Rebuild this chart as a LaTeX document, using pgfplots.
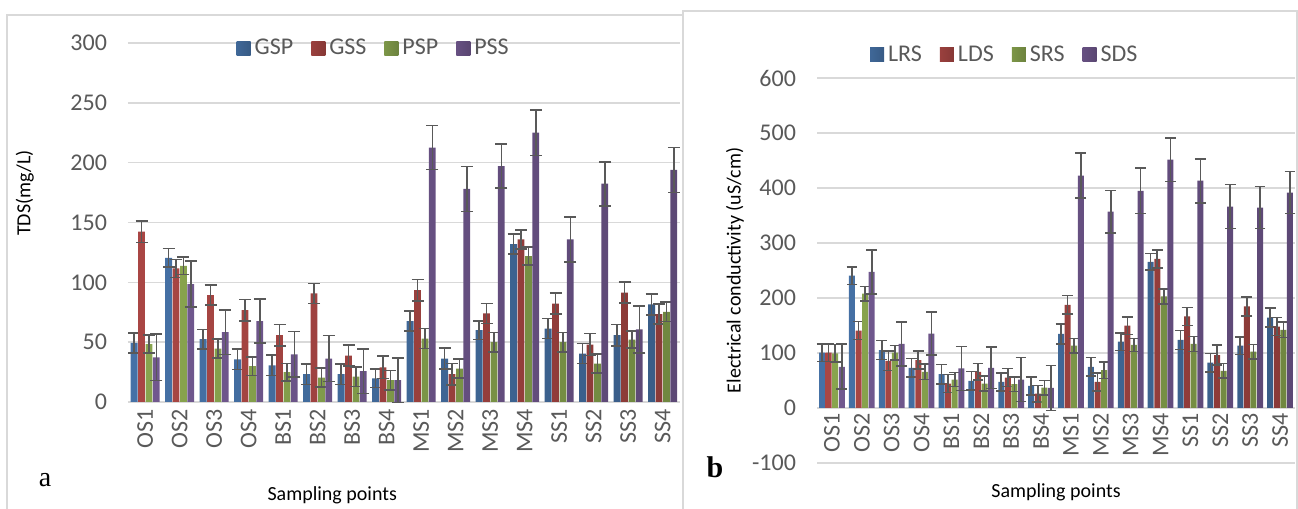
\documentclass[border=0pt]{standalone}
\usepackage{fontspec}
\setmainfont{Carlito}
\newfontfamily\serifx{Liberation Serif}
\usepackage{pgfplots}
\usepackage{pgfplotstable}
\pgfplotsset{compat=1.18}

\definecolor{cblue}{HTML}{4F81BD}
\definecolor{cred}{HTML}{C0504D}
\definecolor{cgreen}{HTML}{9BBB59}
\definecolor{cpurple}{HTML}{8064A2}
\definecolor{txt}{HTML}{595959}
\definecolor{gridc}{HTML}{D9D9D9}
\definecolor{errc}{HTML}{595959}

\newcommand{\tf}{\fontsize{12pt}{14pt}\selectfont}

\pgfplotstableread{
x GSP eGSP GSS eGSS PSP ePSP PSS ePSS
0 49.4 8.3 142.3 8.9 48.3 7.5 37.2 19.4
1 120.5 7.9 111.6 7.6 113.8 7.3 98.5 19.2
2 52.5 8.1 89.3 8.4 44.7 7.8 58.3 18.7
3 35.7 8.4 76.7 9.0 29.9 7.8 67.5 18.4
4 30.7 8.6 55.8 9.0 24.9 7.2 39.9 19.0
5 23.2 8.6 90.7 8.4 20.4 8.1 36.3 19.3
6 23.2 8.6 38.8 8.6 21.2 8.1 25.7 18.7
7 19.8 7.8 29.0 9.2 18.2 8.1 18.2 18.6
8 67.5 8.4 93.5 8.9 53.0 8.4 212.6 18.4
9 36.3 8.9 23.2 8.9 27.9 7.8 178.0 18.7
10 60.0 7.8 74.0 8.3 50.0 8.1 197.2 18.4
11 132.0 8.3 135.9 7.8 121.9 7.6 225.1 19.0
12 61.4 8.4 82.3 8.7 50.0 8.1 135.9 18.9
13 40.5 8.4 48.0 9.2 32.1 7.8 182.4 18.4
14 55.8 9.0 91.5 8.9 52.2 7.3 60.6 19.5
15 81.5 8.6 73.4 8.4 75.3 8.1 193.9 18.7
}\tds

\pgfplotstableread{
x LRS eLRS LDS eLDS SRS eSRS SDS eSDS
0 100.5 16 100.5 16 99.3 16 75.0 41
1 240.7 16 140.8 16.5 207.8 13 247.4 40
2 105.4 17 85.9 17.7 100.5 13 116.4 40
3 73.1 17 87.2 16.4 65.8 14 135.3 39
4 61.5 17.7 44.4 16.4 51.8 13 71.9 40
5 49.4 17 65.8 15 44.4 14 73.1 38
6 47.5 16.5 55.4 16.5 43.3 13 51.8 40
7 40.2 16.5 26.1 15 37.1 13 36.6 41
8 134.7 18 187.7 17 113.3 13 422.3 41
9 75.0 17 47.5 16.5 68.9 15 357.0 38.5
10 120.7 16 149.9 16 114.6 12 394.9 41
11 265.6 15 271.1 16.5 202.9 13.5 451.6 39.6
12 123.7 17 166.4 16.5 116.4 13.4 413.2 40
13 82.3 17 96.3 18 67.6 13.4 366.2 40
14 113.3 16 184.6 17 102.4 13.4 364.4 38
15 164.5 17 148.1 16.5 142.0 14 391.8 38
}\ec

\pgfplotsset{
  mybars/.style={
    scale only axis,
    /pgf/number format/assume math mode=true,
    xmin=-0.5, xmax=15.5,
    xtick={0,...,15},
    xticklabels={OS1,OS2,OS3,OS4,BS1,BS2,BS3,BS4,MS1,MS2,MS3,MS4,SS1,SS2,SS3,SS4},
    x tick label style={rotate=90, anchor=east, font=\tf, text=txt},
    y tick label style={font=\tf, text=txt, xshift=-7pt},
    ymajorgrids, grid style={gridc, line width=0.75pt},
    axis line style={draw=none},
    major tick length=0pt,
    label style={font=\tf, text=txt},
    legend style={draw=none, fill=none, font=\tf, text=txt, legend columns=4,
      /tikz/every even column/.append style={column sep=7pt}},
    error bars/y dir=both, error bars/y explicit,
    error bars/error bar style={line width=0.8pt, color=errc},
    clip=false,
  },
  sbar/.style={left color=#1!88!black, middle color=#1!82!white, right color=#1!72!black, draw=none,
    legend image code/.code={\path[left color=#1!80!black, middle color=#1!75!white, right color=#1!70!black] (0pt,-3.5pt) rectangle (7pt,3.5pt);}},
}

\begin{document}
\begin{tikzpicture}
\useasboundingbox (0,0) rectangle (649pt,254.5pt);
% frames
\draw[gridc, line width=0.75pt] (3.5pt,-2pt) -- (3.5pt,247pt) -- (341.5pt,247pt) -- (341.5pt,-2pt);
\draw[gridc, line width=0.75pt] (341.5pt,-2pt) -- (341.5pt,249pt) -- (648.5pt,249pt) -- (648.5pt,-2pt);

% panel a
\begin{axis}[mybars,
  at={(64pt,53.5pt)}, anchor=south west,
  width=276pt, height=179.5pt,
  ybar=0.3pt, bar width=3.4pt,
  ymin=0, ymax=300, ytick={0,50,...,300},
  error bars/error mark options={rotate=90, mark size=3pt, line width=0.8pt, color=errc},
  ylabel={TDS(mg/L)},
  every axis y label/.style={at={(axis description cs:-0.187,0.582)}, rotate=90, anchor=center},
  xlabel={Sampling points},
  every axis x label/.style={at={(axis description cs:0.37,-0.259)}, anchor=center},
  legend style={at={(axis description cs:0.447,0.986)}, anchor=center},
]
\addplot[sbar=cblue] table[x=x, y=GSP, y error=eGSP] {\tds};
\addplot[sbar=cred] table[x=x, y=GSS, y error=eGSS] {\tds};
\addplot[sbar=cgreen] table[x=x, y=PSP, y error=ePSP] {\tds};
\addplot[sbar=cpurple] table[x=x, y=PSS, y error=ePSS] {\tds};
\legend{GSP,GSS,PSP,PSS}
\end{axis}

% panel b
\begin{axis}[mybars,
  at={(408.5pt,23pt)}, anchor=south west,
  width=239pt, height=192.5pt,
  ybar=0.3pt, bar width=3.0pt,
  ymin=-100, ymax=600, ytick={-100,0,...,600},
  xticklabel shift=-28.5pt,
  error bars/error mark options={rotate=90, mark size=2.7pt, line width=0.8pt, color=errc},
  ylabel={Electrical conductivity (uS/cm)},
  every axis y label/.style={at={(axis description cs:-0.1715,0.5)}, rotate=90, anchor=center},
  xlabel={Sampling points},
  every axis x label/.style={at={(axis description cs:0.5,-0.075)}, anchor=center},
  legend style={at={(axis description cs:0.395,1.06)}, anchor=center},
]
\addplot[sbar=cblue] table[x=x, y=LRS, y error=eLRS] {\ec};
\addplot[sbar=cred] table[x=x, y=LDS, y error=eLDS] {\ec};
\addplot[sbar=cgreen] table[x=x, y=SRS, y error=eSRS] {\ec};
\addplot[sbar=cpurple] table[x=x, y=SDS, y error=eSDS] {\ec};
\legend{LRS,LDS,SRS,SDS}
\end{axis}

\node[font=\serifx\fontsize{14pt}{16pt}\selectfont] at (22.5pt,14.5pt) {a};
\node[font=\serifx\bfseries\fontsize{15pt}{17pt}\selectfont] at (357.5pt,21pt) {b};
\end{tikzpicture}
\end{document}
